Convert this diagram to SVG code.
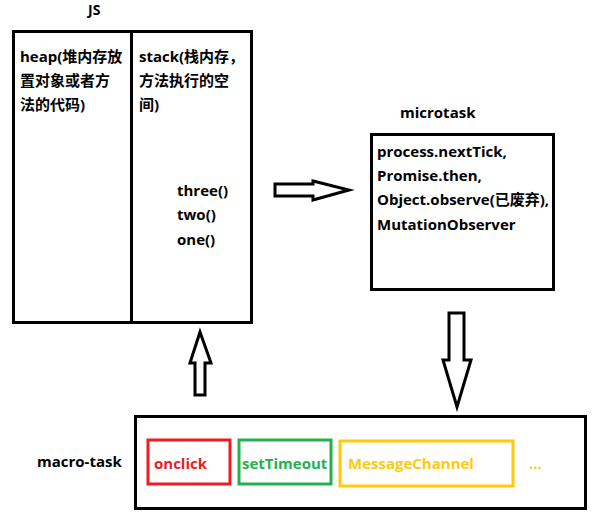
<svg xmlns="http://www.w3.org/2000/svg" width="595" height="521" viewBox="0 0 595 521">
<style>
text{font-family:"Open Sans","Noto Sans CJK SC",sans-serif;font-weight:bold;font-size:15px;fill:#000}
.box{fill:none;stroke:#000;stroke-width:3}
.arrow{fill:#fff;stroke:#000;stroke-width:3;stroke-linejoin:miter}
.red{fill:#ed1c24}.green{fill:#22b14c}.yellow{fill:#ffc90e}
</style>
<rect width="595" height="521" fill="#fff"/>
<g id="js">
<text x="88" y="15" style="font-size:14px">JS</text>
<rect class="box" x="13.5" y="31.5" width="238" height="291"/>
<line x1="131.5" y1="31.5" x2="131.5" y2="322.5" stroke="#000" stroke-width="3"/>
</g>
<g id="heap">
<text x="20" y="62">heap(堆内存放</text>
<text x="20" y="86">置对象或者方</text>
<text x="20" y="110">法的代码)</text>
</g>
<g id="stack">
<text x="139" y="62">stack(栈内存，</text>
<text x="139" y="86">方法执行的空</text>
<text x="139" y="110">间)</text>
<text x="177" y="196">three()</text>
<text x="177" y="220">two()</text>
<text x="177" y="245">one()</text>
</g>
<g id="microtask">
<text x="400" y="118">microtask</text>
<rect class="box" x="371.5" y="134.5" width="182" height="155"/>
<text x="377" y="157">process.nextTick,</text>
<text x="377" y="181">Promise.then,</text>
<text x="377" y="205">Object.observe(已废弃),</text>
<text x="377" y="230">MutationObserver</text>
</g>
<g id="macrotask">
<text x="37" y="467">macro-task</text>
<rect class="box" x="135.5" y="416.5" width="450" height="92"/>
</g>
<g id="onclick">
<rect x="148" y="440" width="82" height="44" fill="none" stroke="#ed1c24" stroke-width="3"/>
<text class="red" x="154" y="469">onclick</text>
</g>
<g id="setTimeout">
<rect x="239" y="440" width="92" height="44" fill="none" stroke="#22b14c" stroke-width="3"/>
<text class="green" x="242" y="469">setTimeout</text>
</g>
<g id="MessageChannel">
<rect x="340" y="441" width="173" height="45" fill="none" stroke="#ffc90e" stroke-width="3"/>
<text class="yellow" x="348" y="469">MessageChannel</text>
</g>
<g id="more">
<text class="yellow" x="529" y="469">...</text>
</g>
<g id="connectors">
<polygon class="arrow" points="275,184 313,184 313,181 349,190 313,200 313,196 275,196"/>
<polygon class="arrow" points="449,313 464,313 464,360 471,360 457,407 443,360 449,360"/>
<polygon class="arrow" points="200,332 211,363 205,363 205,395 195,395 195,363 190,363"/>
</g>
</svg>
